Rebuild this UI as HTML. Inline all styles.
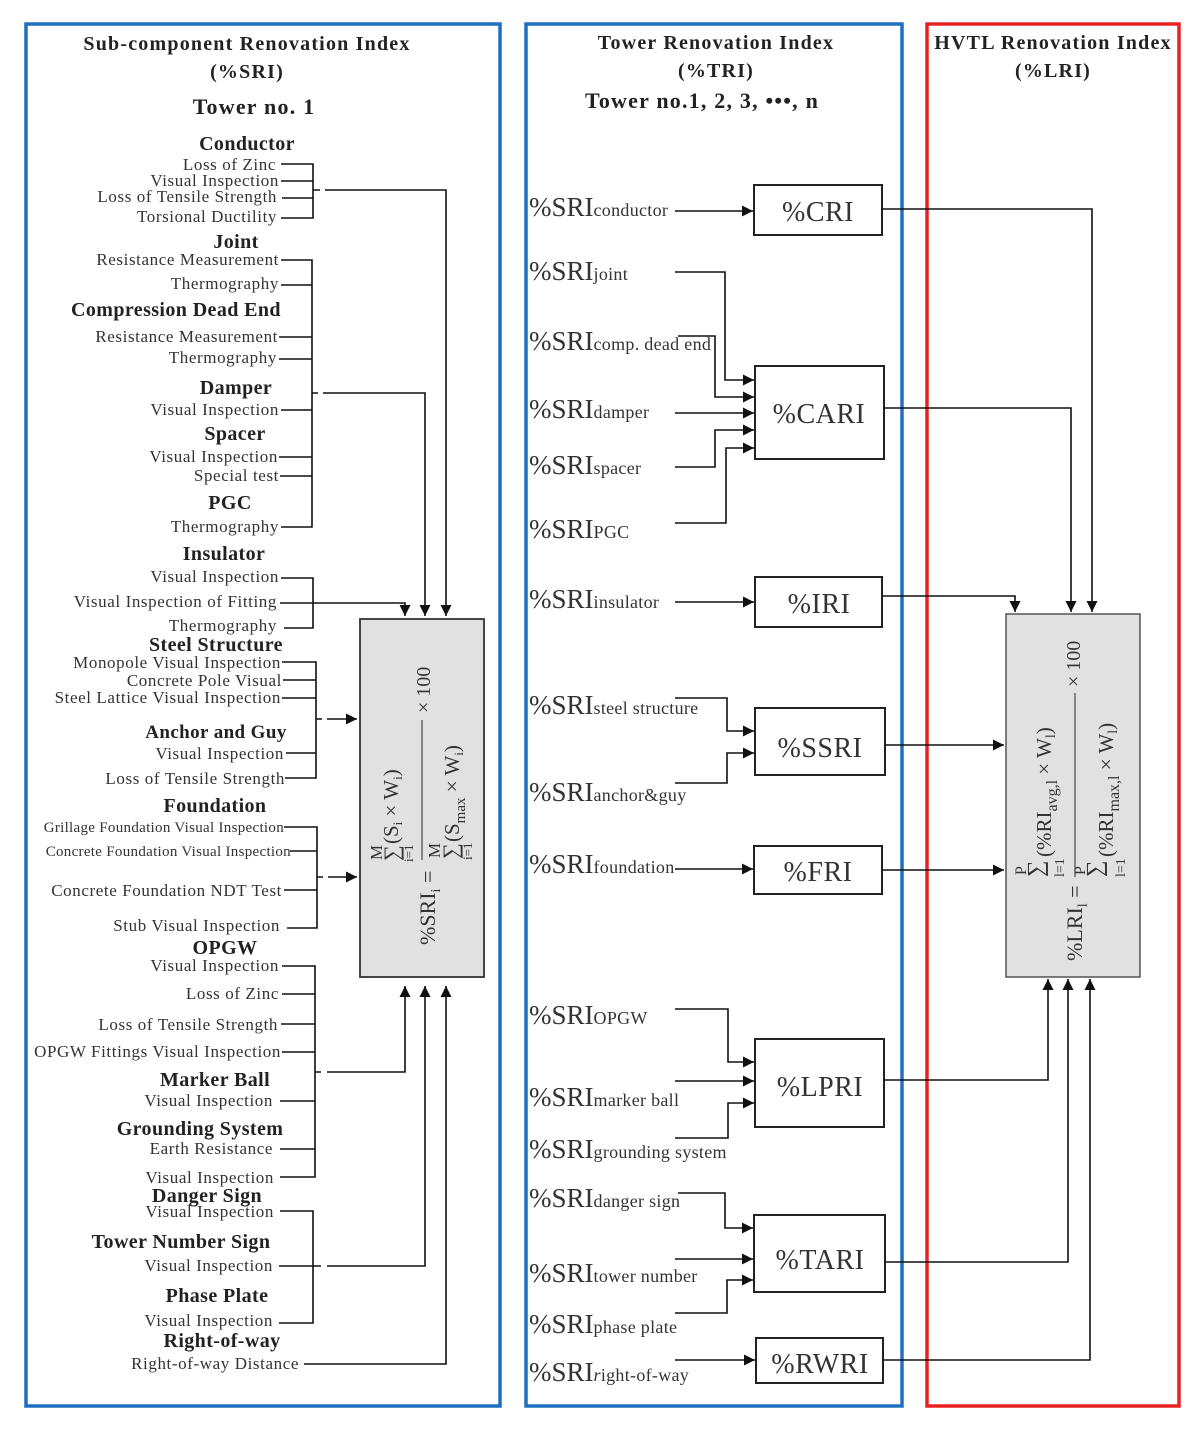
<!DOCTYPE html>
<html><head><meta charset="utf-8">
<style>
html,body{margin:0;padding:0;background:#fff;}
svg{display:block;}
text{font-family:"Liberation Serif",serif;fill:#333;}
.b{font-weight:bold;font-size:20px;fill:#222;letter-spacing:0.4px;}
.t{font-weight:bold;font-size:20px;fill:#222;letter-spacing:1.2px;}
.i{font-size:17px;text-anchor:end;letter-spacing:0.6px;}
.s{font-size:15px;text-anchor:end;letter-spacing:0.3px;}
.m{font-size:27px;}
.sub{font-size:18px;letter-spacing:0.3px;}
.bx{font-size:28px;text-anchor:middle;letter-spacing:0.5px;}
</style></head><body>
<svg width="1200" height="1437" viewBox="0 0 1200 1437" xmlns="http://www.w3.org/2000/svg">
<defs>
<marker id="a" viewBox="0 0 10 10" refX="10" refY="5" markerWidth="11" markerHeight="11" markerUnits="userSpaceOnUse" orient="auto"><path d="M0,0 L10,5 L0,10 z" fill="#111"/></marker>
</defs>
<rect x="26" y="24" width="474" height="1382" fill="none" stroke="#1f6fc0" stroke-width="3.5"/>
<rect x="526" y="24" width="376" height="1382" fill="none" stroke="#1f6fc0" stroke-width="3.5"/>
<rect x="927" y="24" width="252" height="1382" fill="none" stroke="#e82222" stroke-width="3.5"/>

<g text-anchor="middle">
<text class="t" x="247" y="50">Sub-component Renovation Index</text>
<text class="t" x="247" y="78">(%SRI)</text>
<text class="t" x="254" y="114" style="font-size:22px">Tower no. 1</text>
<text class="t" x="716" y="49">Tower Renovation Index</text>
<text class="t" x="716" y="77">(%TRI)</text>
<text class="t" x="702" y="108" style="font-size:22px">Tower no.1, 2, 3, •••, n</text>
<text class="t" x="1053" y="49">HVTL Renovation Index</text>
<text class="t" x="1053" y="77">(%LRI)</text>
</g>

<g text-anchor="middle">
<text class="b" x="247" y="150">Conductor</text>
<text class="b" x="236" y="248">Joint</text>
<text class="b" x="176" y="316">Compression Dead End</text>
<text class="b" x="236" y="394">Damper</text>
<text class="b" x="235" y="440">Spacer</text>
<text class="b" x="230" y="509">PGC</text>
<text class="b" x="224" y="560">Insulator</text>
<text class="b" x="216" y="651">Steel Structure</text>
<text class="b" x="216" y="738" style="font-size:19px">Anchor and Guy</text>
<text class="b" x="215" y="812">Foundation</text>
<text class="b" x="225" y="954">OPGW</text>
<text class="b" x="215" y="1086">Marker Ball</text>
<text class="b" x="200" y="1135">Grounding System</text>
<text class="b" x="207" y="1202">Danger Sign</text>
<text class="b" x="181" y="1248">Tower Number Sign</text>
<text class="b" x="217" y="1302">Phase Plate</text>
<text class="b" x="222" y="1347">Right-of-way</text>
</g>
<g>
<text class="i" x="276" y="170">Loss of Zinc</text>
<text class="i" x="279" y="186">Visual Inspection</text>
<text class="i" x="277" y="202">Loss of Tensile Strength</text>
<text class="i" x="277" y="222">Torsional Ductility</text>
<text class="i" x="279" y="265">Resistance Measurement</text>
<text class="i" x="279" y="289">Thermography</text>
<text class="i" x="278" y="342">Resistance Measurement</text>
<text class="i" x="277" y="363">Thermography</text>
<text class="i" x="279" y="415">Visual Inspection</text>
<text class="i" x="278" y="462">Visual Inspection</text>
<text class="i" x="279" y="481">Special test</text>
<text class="i" x="279" y="532">Thermography</text>
<text class="i" x="279" y="582">Visual Inspection</text>
<text class="i" x="277" y="607">Visual Inspection of Fitting</text>
<text class="i" x="277" y="631">Thermography</text>
<text class="i" x="281" y="668">Monopole Visual Inspection</text>
<text class="i" x="282" y="686">Concrete Pole Visual</text>
<text class="i" x="281" y="703">Steel Lattice Visual Inspection</text>
<text class="i" x="284" y="759">Visual Inspection</text>
<text class="i" x="285" y="784">Loss of Tensile Strength</text>
<text class="s" x="284" y="832">Grillage Foundation Visual Inspection</text>
<text class="s" x="291" y="856">Concrete Foundation Visual Inspection</text>
<text class="i" x="282" y="896">Concrete Foundation NDT Test</text>
<text class="i" x="280" y="931">Stub Visual Inspection</text>
<text class="i" x="279" y="971">Visual Inspection</text>
<text class="i" x="279" y="999">Loss of Zinc</text>
<text class="i" x="278" y="1030">Loss of Tensile Strength</text>
<text class="i" x="281" y="1057">OPGW Fittings Visual Inspection</text>
<text class="i" x="273" y="1106">Visual Inspection</text>
<text class="i" x="273" y="1154">Earth Resistance</text>
<text class="i" x="274" y="1183">Visual Inspection</text>
<text class="i" x="274" y="1217">Visual Inspection</text>
<text class="i" x="273" y="1271">Visual Inspection</text>
<text class="i" x="273" y="1326">Visual Inspection</text>
<text class="i" x="299" y="1369">Right-of-way Distance</text>
</g>

<g stroke="#111" stroke-width="1.6" fill="none">
<path d="M281,164 H313 V218 H281 M281,181 H313 M282,198 H313 M313,190 H320"/>
<path d="M325,190 H446 V616" marker-end="url(#a)"/>
<path d="M281,260 H312 V527 H281 M281,285 H312 M279,337 H312 M279,359 H312 M281,410 H312 M279,457 H312 M280,476 H312 M312,393 H318"/>
<path d="M323,393 H425 V616" marker-end="url(#a)"/>
<path d="M281,578 H313 V628 H284"/>
<path d="M280,603 H405 V616" marker-end="url(#a)"/>
<path d="M282,662 H316 V778 H285 M283,680 H316 M282,698 H316 M286,753 H316 M316,719 H322"/>
<path d="M327,719 H357" marker-end="url(#a)"/>
<path d="M284,827 H317 V928 H287 M290,851 H317 M284,890 H317 M317,877 H323"/>
<path d="M328,877 H357" marker-end="url(#a)"/>
<path d="M282,966 H315 V1177 H280 M282,994 H315 M281,1024 H315 M282,1052 H315 M280,1101 H315 M280,1149 H315 M315,1072 H321"/>
<path d="M327,1072 H405 V986" marker-end="url(#a)"/>
<path d="M280,1211 H313 V1323 H279 M279,1266 H321"/>
<path d="M327,1266 H425 V986" marker-end="url(#a)"/>
<path d="M304,1364 H446 V986" marker-end="url(#a)"/>
</g>

<rect x="360" y="619" width="124" height="358" fill="#e1e1e1" stroke="#333" stroke-width="1.8"/>
<g transform="translate(422,798) rotate(-90)">
<text x="-147" y="13" style="font-size:22px">%SRI<tspan style="font-size:14px" dy="5">i</tspan><tspan dy="-5"> =</tspan></text>
<line x1="-62" y1="0" x2="78" y2="0" stroke="#555" stroke-width="1.3"/>
<text x="-62" y="-40" style="font-size:17px">M</text>
<text x="-63" y="-23" style="font-size:22px">∑</text>
<text x="-64" y="-9" style="font-size:13px">i=1</text>
<text x="-46" y="-24" style="font-size:21px">(S<tspan style="font-size:13px" dy="4">i</tspan><tspan dy="-4"> × W</tspan><tspan style="font-size:13px" dy="4">i</tspan><tspan dy="-4">)</tspan></text>
<text x="-60" y="18" style="font-size:17px">M</text>
<text x="-61" y="36" style="font-size:22px">∑</text>
<text x="-62" y="50" style="font-size:13px">i=1</text>
<text x="-44" y="37" style="font-size:21px">(S<tspan style="font-size:15px" dy="6">max</tspan><tspan dy="-6"> × W</tspan><tspan style="font-size:13px" dy="4">i</tspan><tspan dy="-4">)</tspan></text>
<text x="85" y="8" style="font-size:20px">× 100</text>
</g>

<g>
<text class="m" x="529" y="216">%SRI<tspan class="sub">conductor</tspan></text>
<text class="m" x="529" y="280">%SRI<tspan class="sub">joint</tspan></text>
<text class="m" x="529" y="350">%SRI<tspan class="sub">comp. dead end</tspan></text>
<text class="m" x="529" y="418">%SRI<tspan class="sub">damper</tspan></text>
<text class="m" x="529" y="474">%SRI<tspan class="sub">spacer</tspan></text>
<text class="m" x="529" y="538">%SRI<tspan class="sub">PGC</tspan></text>
<text class="m" x="529" y="608">%SRI<tspan class="sub">insulator</tspan></text>
<text class="m" x="529" y="714">%SRI<tspan class="sub">steel structure</tspan></text>
<text class="m" x="529" y="801">%SRI<tspan class="sub">anchor&amp;guy</tspan></text>
<text class="m" x="529" y="873">%SRI<tspan class="sub">foundation</tspan></text>
<text class="m" x="529" y="1024">%SRI<tspan class="sub">OPGW</tspan></text>
<text class="m" x="529" y="1106">%SRI<tspan class="sub">marker ball</tspan></text>
<text class="m" x="529" y="1158">%SRI<tspan class="sub">grounding system</tspan></text>
<text class="m" x="529" y="1207">%SRI<tspan class="sub">danger sign</tspan></text>
<text class="m" x="529" y="1282">%SRI<tspan class="sub">tower number</tspan></text>
<text class="m" x="529" y="1333">%SRI<tspan class="sub">phase plate</tspan></text>
<text class="m" x="529" y="1381">%SRI<tspan class="sub"><tspan font-style="italic">r</tspan>ight-of-way</tspan></text>
</g>

<g fill="#fff" stroke="#222" stroke-width="2">
<rect x="754" y="185" width="128" height="50"/>
<rect x="755" y="366" width="129" height="93"/>
<rect x="755" y="577" width="127" height="50"/>
<rect x="755" y="708" width="130" height="67"/>
<rect x="754" y="846" width="128" height="48"/>
<rect x="755" y="1039" width="129" height="88"/>
<rect x="754" y="1215" width="131" height="77"/>
<rect x="756" y="1338" width="127" height="45"/>
</g>
<g>
<text class="bx" x="818" y="221">%CRI</text>
<text class="bx" x="819" y="423">%CARI</text>
<text class="bx" x="819" y="613">%IRI</text>
<text class="bx" x="820" y="757">%SSRI</text>
<text class="bx" x="818" y="881">%FRI</text>
<text class="bx" x="820" y="1096">%LPRI</text>
<text class="bx" x="820" y="1269">%TARI</text>
<text class="bx" x="820" y="1373">%RWRI</text>
</g>

<g stroke="#111" stroke-width="1.6" fill="none">
<path d="M675,211 H753" marker-end="url(#a)"/>
<path d="M675,272 H725 V380 H754" marker-end="url(#a)"/>
<path d="M678,336 H715 V397 H754" marker-end="url(#a)"/>
<path d="M675,413 H754" marker-end="url(#a)"/>
<path d="M675,467 H715 V430 H754" marker-end="url(#a)"/>
<path d="M675,523 H726 V448 H754" marker-end="url(#a)"/>
<path d="M675,602 H754" marker-end="url(#a)"/>
<path d="M675,698 H727 V731 H754" marker-end="url(#a)"/>
<path d="M675,783 H727 V753 H754" marker-end="url(#a)"/>
<path d="M675,869 H753" marker-end="url(#a)"/>
<path d="M675,1009 H728 V1062 H754" marker-end="url(#a)"/>
<path d="M675,1081 H754" marker-end="url(#a)"/>
<path d="M675,1138 H728 V1103 H754" marker-end="url(#a)"/>
<path d="M678,1193 H725 V1228 H753" marker-end="url(#a)"/>
<path d="M675,1259 H753" marker-end="url(#a)"/>
<path d="M675,1313 H727 V1280 H753" marker-end="url(#a)"/>
<path d="M675,1360 H755" marker-end="url(#a)"/>
<path d="M882,209 H1092 V612" marker-end="url(#a)"/>
<path d="M884,408 H1071 V612" marker-end="url(#a)"/>
<path d="M882,596 H1015 V612" marker-end="url(#a)"/>
<path d="M885,745 H1004" marker-end="url(#a)"/>
<path d="M882,870 H1004" marker-end="url(#a)"/>
<path d="M884,1080 H1048 V979" marker-end="url(#a)"/>
<path d="M885,1262 H1068 V979" marker-end="url(#a)"/>
<path d="M883,1360 H1090 V979" marker-end="url(#a)"/>
</g>

<rect x="1006" y="614" width="134" height="363" fill="#e1e1e1" stroke="#555" stroke-width="1.5"/>
<g transform="translate(1073,795) rotate(-90)">
<text x="-166" y="9" style="font-size:22px">%LRI<tspan style="font-size:14px" dy="5">l</tspan><tspan dy="-5"> =</tspan></text>
<line x1="-82" y1="2" x2="102" y2="2" stroke="#555" stroke-width="1.3"/>
<text x="-80" y="-47" style="font-size:16px">P</text>
<text x="-82" y="-30" style="font-size:23px">∑</text>
<text x="-82" y="-9" style="font-size:14px">l=1</text>
<text x="-62" y="-22" style="font-size:21px">(%RI<tspan style="font-size:16px" dy="6">avg,l</tspan><tspan dy="-6"> × W</tspan><tspan style="font-size:14px" dy="4">l</tspan><tspan dy="-4">)</tspan></text>
<text x="-80" y="12" style="font-size:16px">P</text>
<text x="-82" y="29" style="font-size:23px">∑</text>
<text x="-82" y="52" style="font-size:14px">l=1</text>
<text x="-62" y="40" style="font-size:21px">(%RI<tspan style="font-size:16px" dy="6">max,l</tspan><tspan dy="-6"> × W</tspan><tspan style="font-size:14px" dy="4">l</tspan><tspan dy="-4">)</tspan></text>
<text x="108" y="7" style="font-size:20px">× 100</text>
</g>
</svg>
</body></html>
